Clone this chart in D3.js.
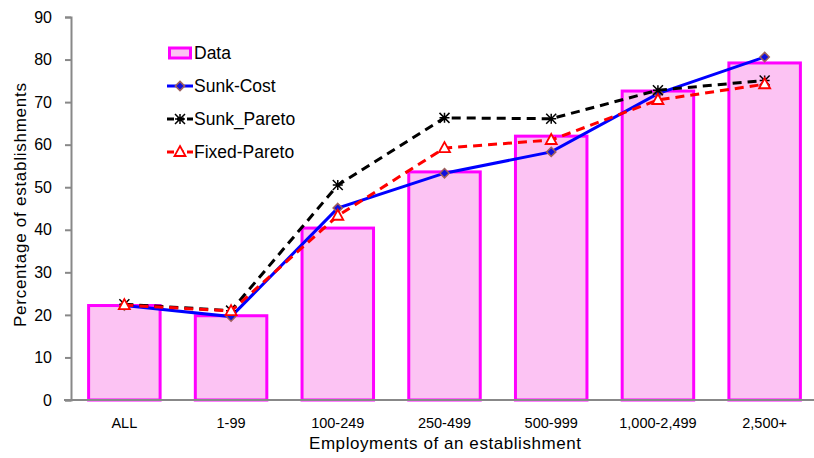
<!DOCTYPE html>
<html><head><meta charset="utf-8">
<script src="https://cdn.jsdelivr.net/npm/d3@7"></script>
<style>body{margin:0;background:#fff}svg{display:block;font-family:"Liberation Sans",Arial,sans-serif}</style>
</head><body><svg id="c" width="814" height="458"></svg>
<script>
const categories = ["ALL","1-99","100-249","250-499","500-999","1,000-2,499","2,500+"];
const dataValues = [22.2, 19.8, 40.4, 53.6, 62.0, 72.6, 79.2];
const sunkCost = [22.2, 19.6, 45.1, 53.3, 58.3, 72.0, 80.6];
const sunkPareto = [22.5, 21.0, 50.5, 66.3, 66.1, 72.8, 75.1];
const fixedPareto = [22.3, 20.9, 43.3, 59.2, 61.1, 70.5, 74.2];
const yTicks = [0,10,20,30,40,50,60,70,80,90];
const legendLabels = ["Data","Sunk-Cost","Sunk_Pareto","Fixed-Pareto"];

const svg = d3.select("#c");
const x = d3.scaleBand().domain(categories).range([71, 818]).paddingInner(0.33).paddingOuter(0.165);
const y = d3.scaleLinear().domain([0, 90]).range([400, 17]);
const cx = d => x(d) + x.bandwidth()/2;

// bars
svg.append("g").selectAll("rect").data(categories).join("rect")
  .attr("x", d => x(d)).attr("width", x.bandwidth())
  .attr("y", (d,i) => y(dataValues[i])).attr("height", (d,i) => y(0) - y(dataValues[i]))
  .attr("fill", "#FCC3F3").attr("stroke", "#FF00FF").attr("stroke-width", 3);

// axes
const yAx = svg.append("g").attr("transform", "translate(71,0)")
  .call(d3.axisLeft(y).tickValues(yTicks).tickSize(6).tickPadding(13).tickFormat(d3.format("d")));
yAx.select(".domain").attr("stroke", "#888").attr("stroke-width", 2);
yAx.selectAll(".tick line").attr("stroke", "#888").attr("stroke-width", 2);
yAx.selectAll("text").attr("font-size", 16).attr("fill", "#000").style("font-family", "Liberation Sans, Arial");

const xAx = svg.append("g").attr("transform", "translate(0,400)")
  .call(d3.axisBottom(x).tickSize(0).tickPadding(18));
xAx.select(".domain").attr("stroke", "#888").attr("stroke-width", 2).attr("d", "M64,0H818");
xAx.selectAll("text").attr("font-size", 14.5).attr("fill", "#000").style("font-family", "Liberation Sans, Arial");

svg.append("text").attr("x", 445).attr("y", 449).attr("text-anchor", "middle")
  .attr("font-size", 17).attr("textLength", 272).text("Employments of an establishment");
svg.append("text").attr("transform", "translate(26,205) rotate(-90)").attr("text-anchor", "middle")
  .attr("font-size", 17).attr("textLength", 244).text("Percentage of establishments");

const line = d3.line().x((d,i) => cx(categories[i])).y(d => y(d));
const series = [
  {vals: sunkCost, color: "#0000FF", dash: null, marker: "diamond"},
  {vals: sunkPareto, color: "#000000", dash: "9,6", marker: "star"},
  {vals: fixedPareto, color: "#FF0000", dash: "9,6", marker: "triangle"}
];

function drawMarker(g, type, px, py, color) {
  if (type === "diamond") {
    g.append("path").attr("d", d3.symbol(d3.symbolDiamond2, 55)()).attr("transform", `translate(${px},${py})`)
      .attr("fill", "#1010E0").attr("stroke", "#A0605A").attr("stroke-width", 1.5);
  } else if (type === "star") {
    const s = 5;
    g.append("path").attr("d", `M${px-s},${py-s}L${px+s},${py+s}M${px+s},${py-s}L${px-s},${py+s}M${px-s},${py}L${px+s},${py}M${px},${py-s}L${px},${py+s}`)
      .attr("stroke", "#000").attr("stroke-width", 1.5).attr("fill", "none");
  } else {
    g.append("path").attr("d", `M${px},${py-6}L${px+5.5},${py+4}L${px-5.5},${py+4}Z`)
      .attr("fill", "#fff").attr("stroke", "#FF0000").attr("stroke-width", 1.8);
  }
}

series.forEach(s => {
  const g = svg.append("g");
  g.append("path").attr("d", line(s.vals)).attr("fill", "none").attr("stroke", s.color)
    .attr("stroke-width", 3).attr("stroke-dasharray", s.dash);
  s.vals.forEach((v,i) => drawMarker(g, s.marker, cx(categories[i]), y(v), s.color));
});

// legend
const lg = svg.append("g");
const ly = [53, 86, 119, 152];
legendLabels.forEach((lab, i) => {
  const yy = ly[i];
  if (i === 0) {
    lg.append("rect").attr("x", 169.5).attr("y", yy-5).attr("width", 21).attr("height", 10)
      .attr("fill", "#FCC3F3").attr("stroke", "#FF00FF").attr("stroke-width", 3);
  } else {
    const s = series[i-1];
    lg.append("path").attr("d", `M167,${yy}H193`).attr("stroke", s.color).attr("stroke-width", 3)
      .attr("stroke-dasharray", s.dash ? "7,3" : null);
    drawMarker(lg, s.marker, 180, yy, s.color);
  }
  lg.append("text").attr("x", 194).attr("y", yy+6).attr("font-size", 17.5).text(lab);
});
</script></body></html>
